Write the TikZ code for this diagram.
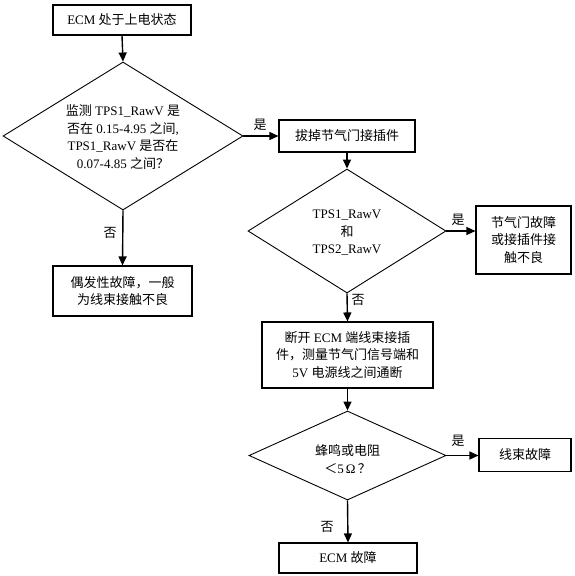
\documentclass[tikz,border=0pt]{standalone}
\usepackage{fontspec}
\setmainfont{Liberation Serif}
\newfontfamily\cjk{Noto Sans CJK SC}
\newcommand\zh[1]{{\cjk #1}}
\usetikzlibrary{shapes.geometric,arrows.meta}
\begin{document}
\begin{tikzpicture}[x=1pt,y=-1pt,
  font=\fontsize{13}{17.5}\selectfont,
  box/.style={draw, line width=1.1pt, inner sep=0pt, align=center},
  dia/.style={draw, diamond, line width=0.9pt, inner sep=0pt},
  txt/.style={align=center, inner sep=0pt},
  arr/.style={line width=1.4pt, -{Triangle[length=9pt,width=8pt]}},
  lab/.style={inner sep=1pt}]
\path[use as bounding box] (0,0) rectangle (574,576);
% boxes
\node[box, minimum width=138pt, minimum height=30pt] (b1) at (122,20) {ECM \zh{处于上电状态}};
\node[dia, minimum width=240pt, minimum height=148pt] (d1) at (123,136) {};
\node[txt] (t1) at (123,137) {\zh{监测} TPS1\_RawV \zh{是}\\\zh{否在} 0.15-4.95 \zh{之间},\\TPS1\_RawV \zh{是否在}\\0.07-4.85 \zh{之间？}};
\node[box, minimum width=139pt, minimum height=50pt] (b2) at (122.5,291) {\zh{偶发性故障，一般}\\\zh{为线束接触不良}};
\node[box, minimum width=136pt, minimum height=32pt] (b3) at (347,136) {\zh{拔掉节气门接插件}};
\node[dia, minimum width=198pt, minimum height=124pt] (d2) at (347,231) {};
\node[txt] (t2) at (347,233) {TPS1\_RawV\\\zh{和}\\TPS2\_RawV};
\node[box, minimum width=95pt, minimum height=68pt] (b4) at (523.5,240) {\zh{节气门故障}\\\zh{或接插件接}\\\zh{触不良}};
\node[box, minimum width=171pt, minimum height=66pt] (b5) at (347.5,355) {\zh{断开} ECM \zh{端线束接插}\\\zh{件，测量节气门信号端和}\\5V \zh{电源线之间通断}};
\node[dia, minimum width=197pt, minimum height=89pt] (d3) at (347.5,455.5) {};
\node[txt] (t3) at (347.5,459) {\zh{蜂鸣或电阻}\\\zh{＜}5\,Ω\,\zh{？}};
\node[box, minimum width=92pt, minimum height=33pt] (b6) at (525,455) {\zh{线束故障}};
\node[box, minimum width=138pt, minimum height=30pt] (b7) at (348,558) {ECM \zh{故障}};
% connectors
\draw[arr] (b1.south) -- (d1.north);
\draw[arr] (d1.south) -- (b2.north);
\draw[arr] (d1.east) -- (b3.west);
\draw[arr] (b3.south) -- (d2.north);
\draw[arr] (d2.east) -- (d2.east -| b4.west);
\draw[arr] (d2.south) -- (b5.north);
\draw[arr] (b5.south) -- (d3.north);
\draw[arr] (d3.east) -- (d3.east -| b6.west);
\draw[arr] (d3.south) -- (b7.north);
% labels
\node[lab] (l1) at (110,233) {\zh{否}};
\node[lab] (l2) at (260,125) {\zh{是}};
\node[lab] (l3) at (458,220) {\zh{是}};
\node[lab] (l4) at (358,300) {\zh{否}};
\node[lab] (l5) at (458,441) {\zh{是}};
\node[lab] (l6) at (327,527) {\zh{否}};
\end{tikzpicture}
\end{document}
